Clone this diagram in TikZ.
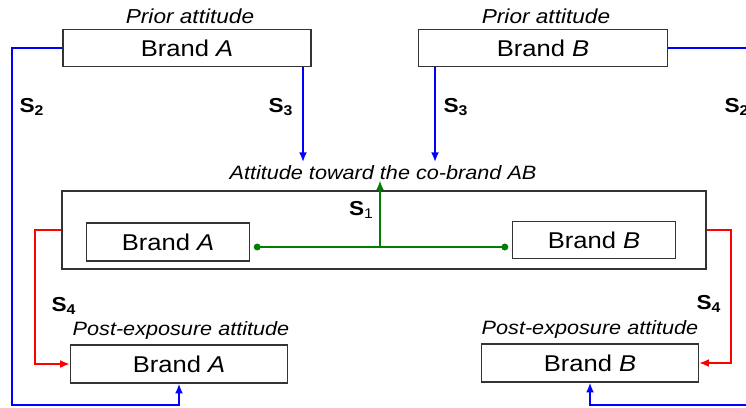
\documentclass[tikz,border=0pt]{standalone}
\usepackage{fontspec}
\setmainfont{Liberation Sans}[FakeStretch=1.12]
\usepackage{tikz}
\usetikzlibrary{positioning,arrows.meta}
\usepackage{xcolor}
\definecolor{linkgreen}{RGB}{0,128,0}

\begin{document}
\begin{tikzpicture}[x=0.02cm,y=-0.02cm, >={Latex[length=5.5pt,width=4.5pt]},
  box/.style={draw=black!80,line width=0.8pt,inner sep=0pt,font=\fontsize{13}{15}\selectfont},
  lbl/.style={font=\fontsize{11}{13}\selectfont\itshape,inner sep=0pt},
  sl/.style={font=\fontsize{11.5}{13}\selectfont\bfseries,inner sep=0pt},
  link/.style={line width=1pt}]
\useasboundingbox (0,0) rectangle (746,407);
\clip (0,0) rectangle (746,407);
\node[box,minimum width=4.96cm,minimum height=0.74cm] (priorA) at (187,48) {Brand \textit{A}};
\node[box,minimum width=4.98cm,minimum height=0.74cm] (priorB) at (543,48) {Brand \textit{B}};
\node[lbl,font=\fontsize{11.5}{13}\selectfont\itshape] (priorAlbl) at (190,16) {Prior attitude};
\node[lbl,font=\fontsize{11.5}{13}\selectfont\itshape] (priorBlbl) at (546,16) {Prior attitude};
\node[box,minimum width=12.88cm,minimum height=1.56cm] (cobrand) at (384,230) {};
\node[lbl] (title) at (383,173) {Attitude toward the co-brand AB};
\node[box,minimum width=3.26cm,minimum height=0.76cm] (inA) at (168,242) {Brand \textit{A}};
\node[box,minimum width=3.26cm,minimum height=0.74cm] (inB) at (594,240) {Brand \textit{B}};
\node[box,minimum width=4.34cm,minimum height=0.76cm] (postA) at (179,364) {Brand \textit{A}};
\node[box,minimum width=4.34cm,minimum height=0.76cm] (postB) at (590,363) {Brand \textit{B}};
\node[lbl] (postAlbl) at (181,330) {Post-exposure attitude};
\node[lbl] (postBlbl) at (590,329) {Post-exposure attitude};
% path labels
\node[sl] (s2a) at (32,107) {S\textsubscript{2}};
\node[sl] (s2b) at (737,107) {S\textsubscript{2}};
\node[sl] (s3a) at (281,107) {S\textsubscript{3}};
\node[sl] (s3b) at (456,107) {S\textsubscript{3}};
\node[sl] (s4a) at (64,306) {S\textsubscript{4}};
\node[sl] (s4b) at (709,304) {S\textsubscript{4}};
\node[sl] (s1) at (361,210) {S\raisebox{-0.3ex}{\mdseries\footnotesize 1}};
\coordinate (hub) at (380,247);
\coordinate (tipA) at (303,162);
\coordinate (tipB) at (435,162);
\coordinate (cornerA) at (12,405);
\coordinate (cornerB) at (752,405);
% links
\draw[link,blue,->] (priorA.south -| tipA) -- (tipA);
\draw[link,blue,->] (priorB.south -| tipB) -- (tipB);
\draw[link,blue,->] (priorA.west) -| (cornerA) -| (postA.south);
\draw[link,blue,->] (priorB.east) -| (cornerB) -| (postB.south);
\draw[link,red,->] (cobrand.west) -- ++(-26,0) |- (postA.west);
\draw[link,red,->] (cobrand.east) -- ++(24,0) |- (postB.east);
\draw[link,linkgreen] ([shift={(7,5)}]inA.east) -- ([shift={(-7,7)}]inB.west);
\fill[linkgreen] ([shift={(7,5)}]inA.east) circle (3.5);
\fill[linkgreen] ([shift={(-7,7)}]inB.west) circle (3.5);
\draw[link,linkgreen,->] (hub) -- (hub |- title.south);
\end{tikzpicture}
\end{document}
